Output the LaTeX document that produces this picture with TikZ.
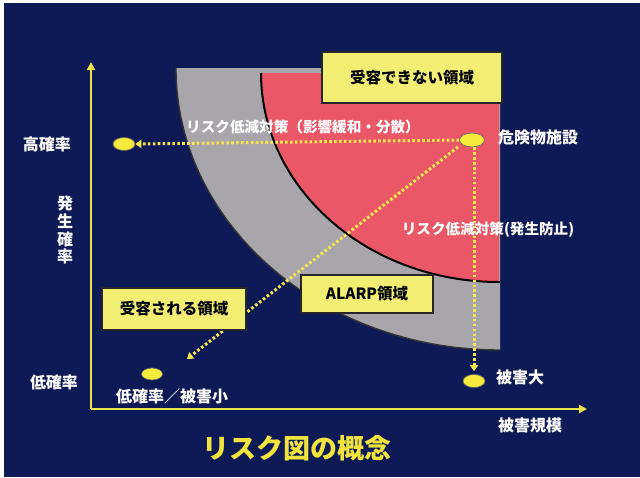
\documentclass[tikz,border=0pt]{standalone}
\usepackage{fontspec}
\newfontfamily\jp{Noto Sans CJK JP}
\usetikzlibrary{arrows.meta,shapes.geometric}
\definecolor{navy}{HTML}{0E1A55}
\definecolor{grayband}{HTML}{A8A6AA}
\definecolor{redzone}{HTML}{EA5868}
\definecolor{boxyellow}{HTML}{F2EE74}
\definecolor{axisyellow}{HTML}{ECE44A}
\definecolor{dotyellow}{HTML}{F6E650}
\definecolor{ellyellow}{HTML}{F6EA3C}
\definecolor{titleyellow}{HTML}{F2E43E}
\begin{document}
\begin{tikzpicture}[x=1pt,y=-1pt,
  lbl/.style={text=white,font=\jp\bfseries\fontsize{16}{16}\selectfont,inner sep=0pt},
  slbl/.style={text=white,font=\jp\bfseries\fontsize{14.6}{15}\selectfont,inner sep=0pt},
  ybox/.style={fill=boxyellow,draw=black!85,line width=1.3pt,inner sep=0pt,
    font=\jp\bfseries\fontsize{15.5}{16}\selectfont,text=black},
  ell/.style={ellipse,fill=ellyellow,draw=black!60,line width=0.7pt,inner sep=0pt},
  dots/.style={draw=dotyellow,line width=3pt,dash pattern=on 2.6pt off 2.3pt,
    -{Triangle[length=6pt,width=8pt]}},
  axis/.style={draw=axisyellow,line width=2.6pt,-{Triangle[length=8pt,width=8pt]}}]
\useasboundingbox (0,0) rectangle (640,477);
\fill[white] (0,0) rectangle (640,477);
\fill[navy] (4,3) rectangle (640,477);
% regions
\fill[grayband] (500,68) -- (176,68) arc[start angle=180,end angle=90,x radius=324,y radius=282] -- cycle;
\draw[black!80,line width=1.4pt] (176,68) arc[start angle=180,end angle=90,x radius=324,y radius=282];
\fill[redzone] (499,73) -- (261,73) arc[start angle=180,end angle=90,x radius=238,y radius=209] -- cycle;
\draw[black,line width=2pt] (261,73) arc[start angle=180,end angle=90,x radius=238,y radius=209] -- (500,282);
% points
\node[ell,minimum width=25pt,minimum height=14pt] (haz) at (472,140) {};
\node[ell,minimum width=22pt,minimum height=13pt] (hi) at (124,144) {};
\node[ell,minimum width=21pt,minimum height=12pt] (lo) at (152,374) {};
\node[ell,minimum width=22pt,minimum height=13pt] (big) at (474,381) {};
\coordinate (diagend) at (187,359);
% dotted arrows
\draw[dots] (haz.west) -- (hi.east);
\draw[dots,shorten >=3pt] (haz.south -| big.north) -- (big.north);
\draw[dots] (458,147) -- (diagend);
% boxes
\node[ybox,minimum width=180pt,minimum height=51pt] (nbox) at (412,77.5) {受容できない領域};
\node[ybox,minimum width=132pt,minimum height=38pt] (abox) at (367,294) {ALARP領域};
\node[ybox,minimum width=144pt,minimum height=42pt] (bbox) at (174,309) {受容される領域};
% axes
\coordinate (O) at (91,409);
\coordinate (ytop) at (91,62);
\coordinate (xend) at (587,409);
\draw[axis] (O) -- (ytop);
\draw[axis] (O) -- (xend);
% labels
\node[lbl] (lhi) at (47,144) {高確率};
\node[lbl] (llo) at (54,382) {低確率};
\node[lbl] (v1) at (65,203) {発};
\node[lbl] (v2) at (65,221) {生};
\node[lbl] (v3) at (65,239) {確};
\node[lbl] (v4) at (65,256) {率};
\node[lbl] (lx) at (530,425) {被害規模};
\node[lbl] (lbig) at (520,377) {被害大};
\node[lbl] (llos) at (172,396) {低確率／被害小};
\node[lbl] (lhaz) at (538,137) {危険物施設};
\node[slbl] (lm1) at (303,127) {リスク低減対策（影響緩和・分散）};
\node[slbl] (lm2) at (488,230) {リスク低減対策(発生防止)};
\node[text=titleyellow,font=\jp\bfseries\fontsize{27}{28}\selectfont,inner sep=0pt] (title) at (297,448) {リスク図の概念};
\end{tikzpicture}
\end{document}
